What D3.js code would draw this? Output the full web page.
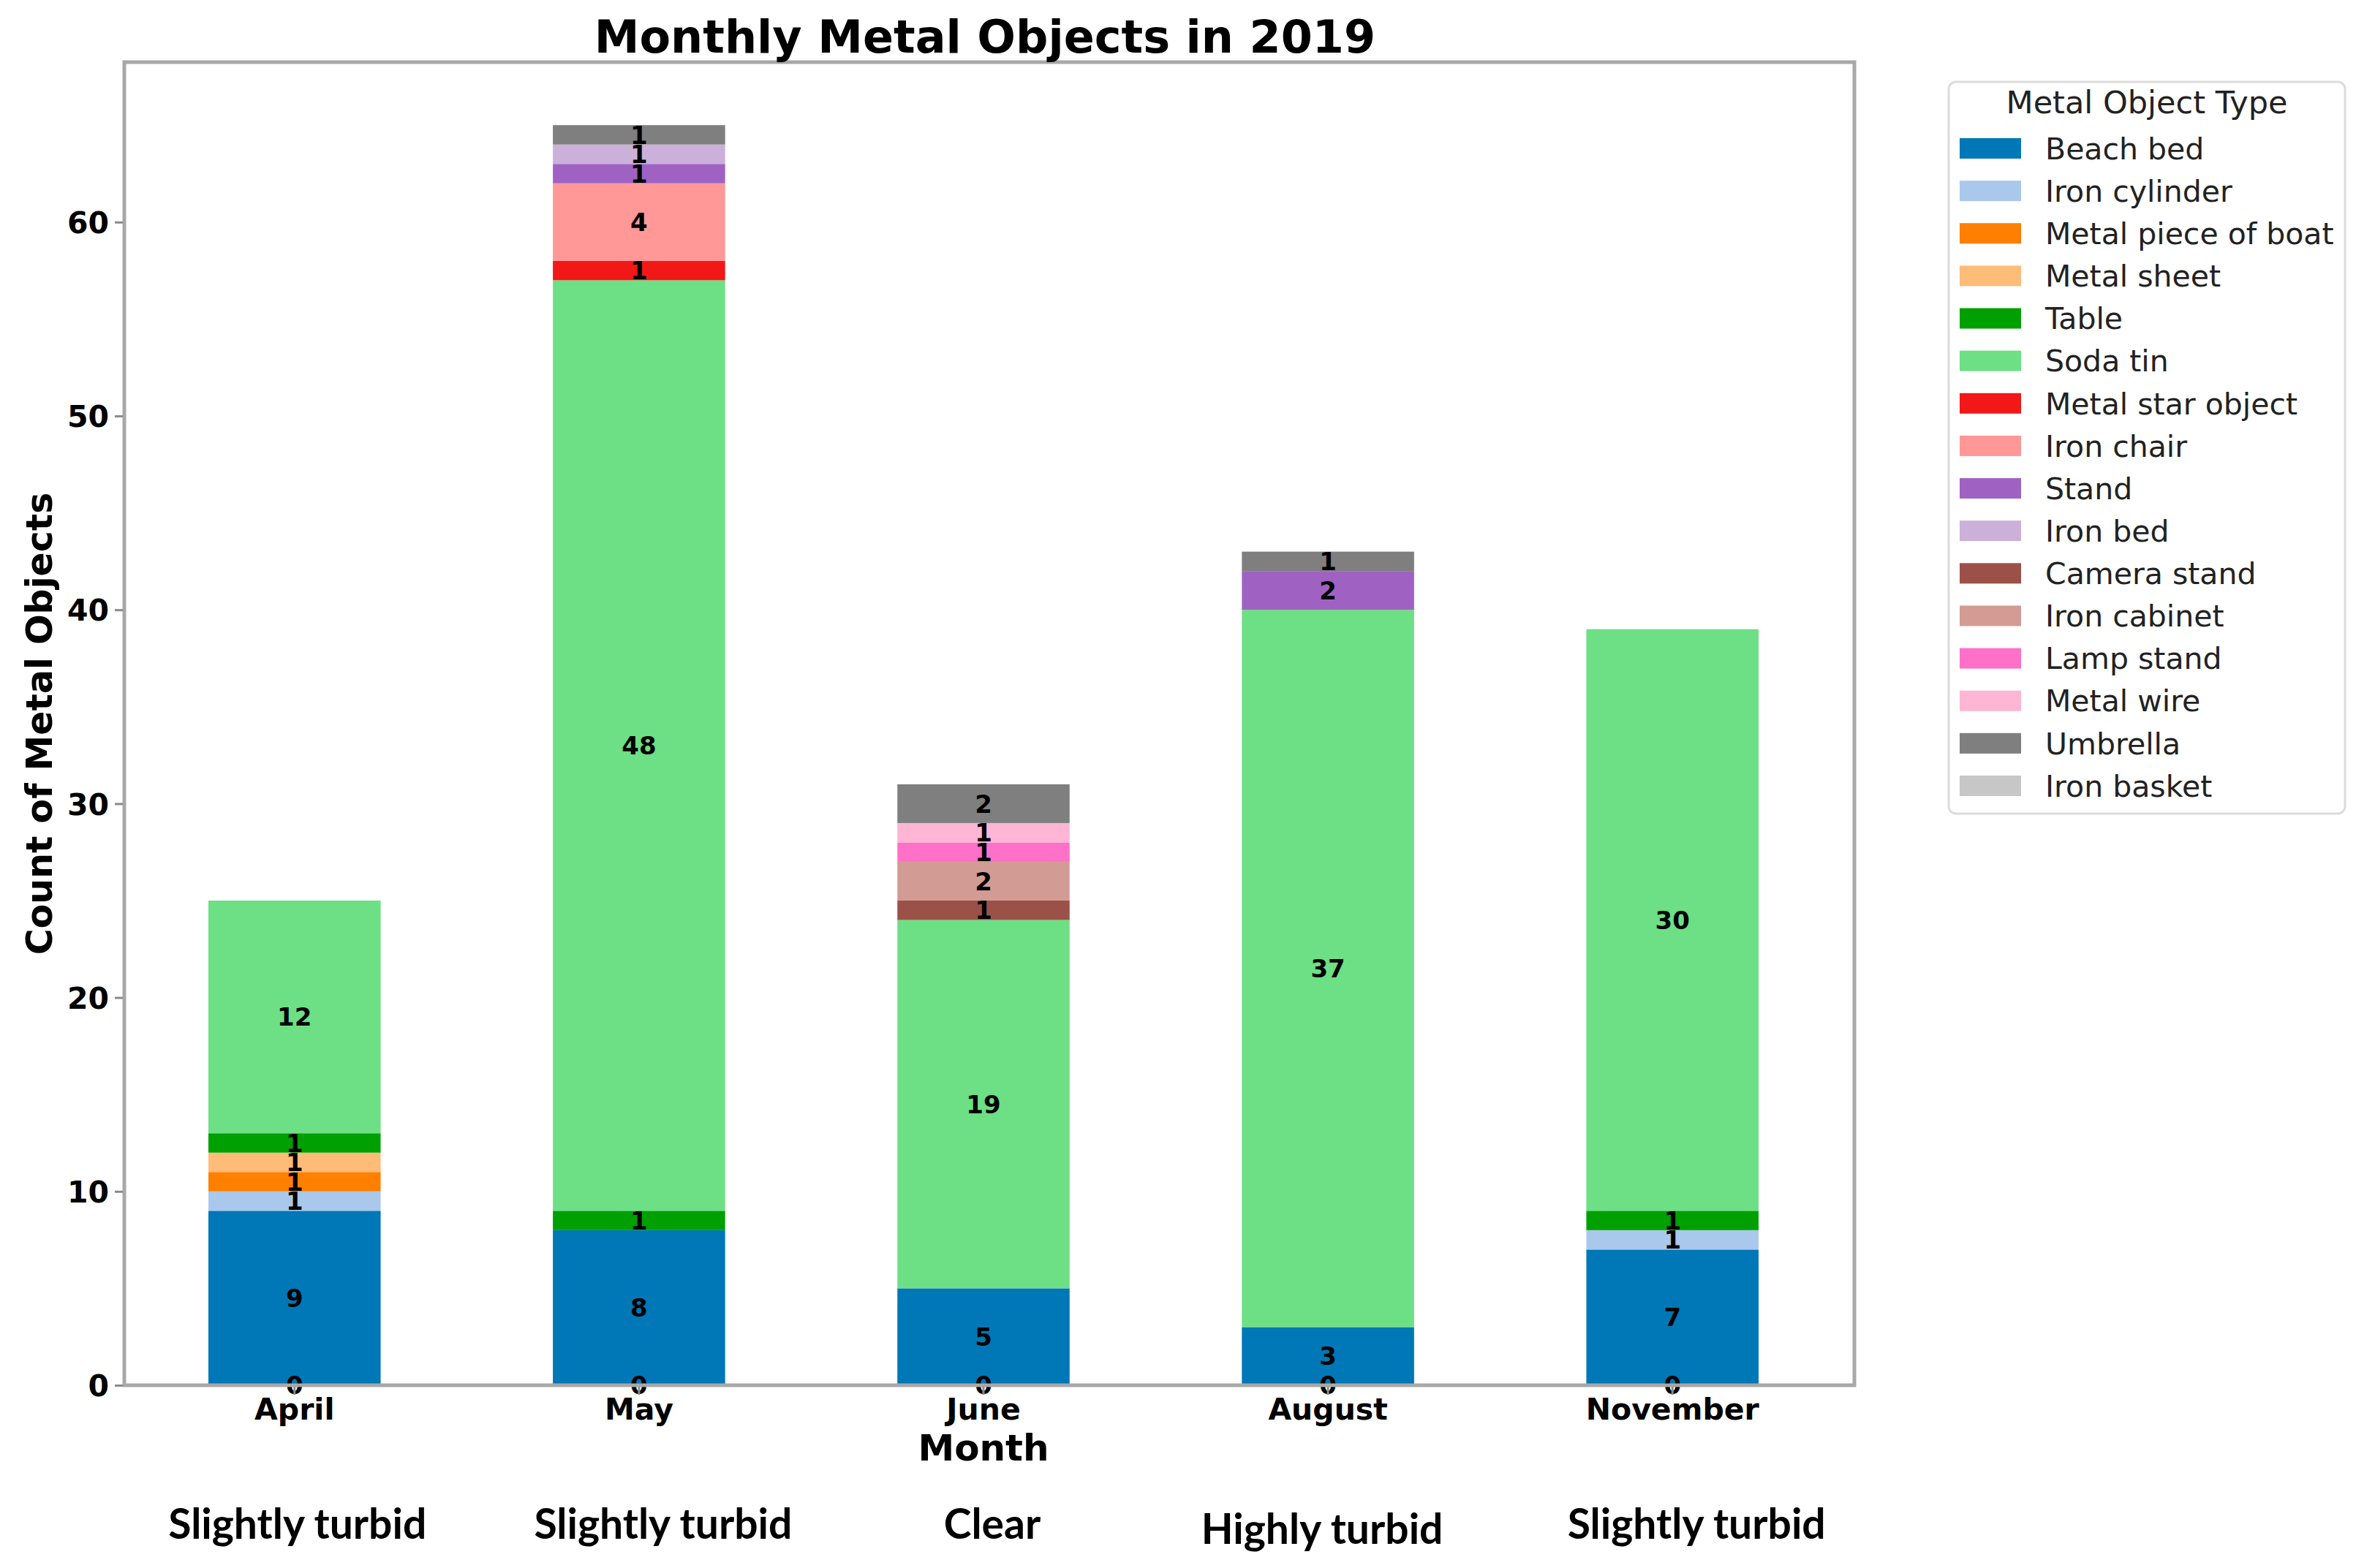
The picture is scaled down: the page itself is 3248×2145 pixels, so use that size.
<!DOCTYPE html>
<html>
<head>
<meta charset="utf-8">
<script src="https://cdn.jsdelivr.net/npm/d3@7"></script>
<style>
  html, body { margin: 0; padding: 0; background: #fff; }
  svg { display: block; }
</style>
</head>
<body>
<svg id="chart" width="3248" height="2145"></svg>
<script>
// ---------------- DATA ----------------
const months = ["April", "May", "June", "August", "November"];
const turbidity = ["Slightly turbid", "Slightly turbid", "Clear", "Highly turbid", "Slightly turbid"];
const objectTypes = ["Beach bed", "Iron cylinder", "Metal piece of boat", "Metal sheet", "Table",
  "Soda tin", "Metal star object", "Iron chair", "Stand", "Iron bed", "Camera stand",
  "Iron cabinet", "Lamp stand", "Metal wire", "Umbrella", "Iron basket"];

const beachBed        = [9, 8, 5, 3, 7];
const ironCylinder    = [1, 0, 0, 0, 1];
const metalPieceBoat  = [1, 0, 0, 0, 0];
const metalSheet      = [1, 0, 0, 0, 0];
const table           = [1, 1, 0, 0, 1];
const sodaTin         = [12, 48, 19, 37, 30];
const metalStar       = [0, 1, 0, 0, 0];
const ironChair       = [0, 4, 0, 0, 0];
const stand           = [0, 1, 0, 2, 0];
const ironBed         = [0, 1, 0, 0, 0];
const cameraStand     = [0, 0, 1, 0, 0];
const ironCabinet     = [0, 0, 2, 0, 0];
const lampStand       = [0, 0, 1, 0, 0];
const metalWire       = [0, 0, 1, 0, 0];
const umbrella        = [0, 1, 2, 1, 0];
const ironBasket      = [0, 0, 0, 0, 0];
const baseLabels      = [0, 0, 0, 0, 0];

const seriesValues = [beachBed, ironCylinder, metalPieceBoat, metalSheet, table, sodaTin,
  metalStar, ironChair, stand, ironBed, cameraStand, ironCabinet, lampStand, metalWire,
  umbrella, ironBasket];

const yTicks = [0, 10, 20, 30, 40, 50, 60];

// ---------------- STYLE ----------------
const palette = ["#0077b6", "#a9c8ec", "#ff7f00", "#ffbb78", "#00a000", "#6ddf85",
  "#f21818", "#ff9896", "#a062c2", "#cbb0da", "#9c5148", "#d29c94", "#ff70c8",
  "#ffb5d4", "#7f7f7f", "#c7c7c7"];
const turbDx = [4, 33, 12, -8, 33];
const turbDy = [0, 0, 0, 7, 0];

const svg = d3.select("#chart");
const axL = 170, axR = 2536, axT = 85, axB = 1895;
const mainFont = "DejaVu Sans, sans-serif";

const table_ = months.map((m, i) => {
  const row = { month: m };
  objectTypes.forEach((t, k) => row[t] = seriesValues[k][i]);
  return row;
});
const stacked = d3.stack().keys(objectTypes)(table_);

const x = d3.scaleBand().domain(months).range([179, 2511]).paddingInner(0.5).paddingOuter(0.225);
const y = d3.scaleLinear().domain([0, 68.25]).range([axB, axT]);
const color = d3.scaleOrdinal().domain(objectTypes).range(palette);

// bars
const layers = svg.append("g").selectAll("g").data(stacked).join("g")
  .attr("fill", d => color(d.key));
layers.selectAll("rect").data(d => d).join("rect")
  .attr("x", d => x(d.data.month))
  .attr("width", x.bandwidth())
  .attr("y", d => y(d[1]))
  .attr("height", d => y(d[0]) - y(d[1]));

// value labels
const labelG = svg.append("g").attr("font-family", mainFont).attr("font-weight", "bold")
  .attr("font-size", 34).attr("text-anchor", "middle").attr("fill", "#000");
stacked.forEach(layer => {
  layer.forEach(d => {
    const v = d[1] - d[0];
    if (v > 0) {
      labelG.append("text")
        .attr("x", x(d.data.month) + x.bandwidth() / 2)
        .attr("y", y((d[0] + d[1]) / 2))
        .attr("dy", "0.36em")
        .text(v);
    }
  });
});
months.forEach((m, i) => {
  labelG.append("text")
    .attr("x", x(m) + x.bandwidth() / 2)
    .attr("y", y(baseLabels[i]))
    .attr("dy", "0.36em")
    .text(baseLabels[i]);
});

// frame
svg.append("rect").attr("x", axL).attr("y", axT).attr("width", axR - axL).attr("height", axB - axT)
  .attr("fill", "none").attr("stroke", "#a8a8a8").attr("stroke-width", 5);

// y axis
const yAxis = d3.axisLeft(y).tickValues(yTicks).tickSize(11).tickPadding(8);
const yg = svg.append("g").attr("transform", `translate(${axL - 2},0)`).call(yAxis);
yg.select(".domain").remove();
yg.selectAll("line").attr("stroke", "#8a8a8a").attr("stroke-width", 3);
yg.selectAll("text").attr("font-family", mainFont).attr("font-weight", "bold")
  .attr("font-size", 41).attr("fill", "#000").attr("dy", "0.36em");

// x axis
const xAxis = d3.axisBottom(x).tickSize(11).tickPadding(6);
const xg = svg.append("g").attr("transform", `translate(0,${axB + 2})`).call(xAxis);
xg.select(".domain").remove();
xg.selectAll("line").attr("stroke", "#8a8a8a").attr("stroke-width", 3);
xg.selectAll("text").attr("font-family", mainFont).attr("font-weight", "bold")
  .attr("font-size", 41).attr("fill", "#000").attr("dy", null).attr("y", 45);

// axis titles
svg.append("text").attr("x", 1345).attr("y", 1998).attr("text-anchor", "middle")
  .attr("font-family", mainFont).attr("font-weight", "bold").attr("font-size", 50).text("Month");
svg.append("text").attr("transform", `translate(53,${(axT + axB) / 2}) rotate(-90)`)
  .attr("dy", "0.36em").attr("text-anchor", "middle")
  .attr("font-family", mainFont).attr("font-weight", "bold").attr("font-size", 49)
  .text("Count of Metal Objects");
svg.append("text").attr("x", 1347).attr("y", 72).attr("text-anchor", "middle")
  .attr("font-family", mainFont).attr("font-weight", "bold").attr("font-size", 62)
  .text("Monthly Metal Objects in 2019");

// turbidity labels
svg.append("g").selectAll("text").data(months).join("text")
  .attr("x", (m, i) => x(m) + x.bandwidth() / 2 + turbDx[i])
  .attr("y", (m, i) => 2105 + turbDy[i])
  .attr("text-anchor", "middle")
  .attr("font-family", "Lato, sans-serif").attr("font-weight", "bold").attr("font-size", 57)
  .attr("fill", "#000")
  .text((m, i) => turbidity[i]);

// legend
const lg = svg.append("g");
lg.append("rect").attr("x", 2665).attr("y", 112).attr("width", 542).attr("height", 1001)
  .attr("rx", 10).attr("fill", "#fff").attr("stroke", "#dcdcdc").attr("stroke-width", 3);
lg.append("text").attr("x", 2936).attr("y", 155).attr("text-anchor", "middle")
  .attr("font-family", mainFont).attr("font-size", 43).attr("fill", "#222").text("Metal Object Type");
const rowY = d3.scalePoint().domain(objectTypes).range([203, 1075]);
const items = lg.selectAll("g.item").data(objectTypes).join("g").attr("class", "item")
  .attr("transform", d => `translate(0,${rowY(d)})`);
items.append("rect").attr("x", 2680).attr("y", -14).attr("width", 84).attr("height", 28)
  .attr("fill", d => color(d));
items.append("text").attr("x", 2797).attr("dy", "0.36em")
  .attr("font-family", mainFont).attr("font-size", 41).attr("fill", "#222").text(d => d);
</script>
</body>
</html>
